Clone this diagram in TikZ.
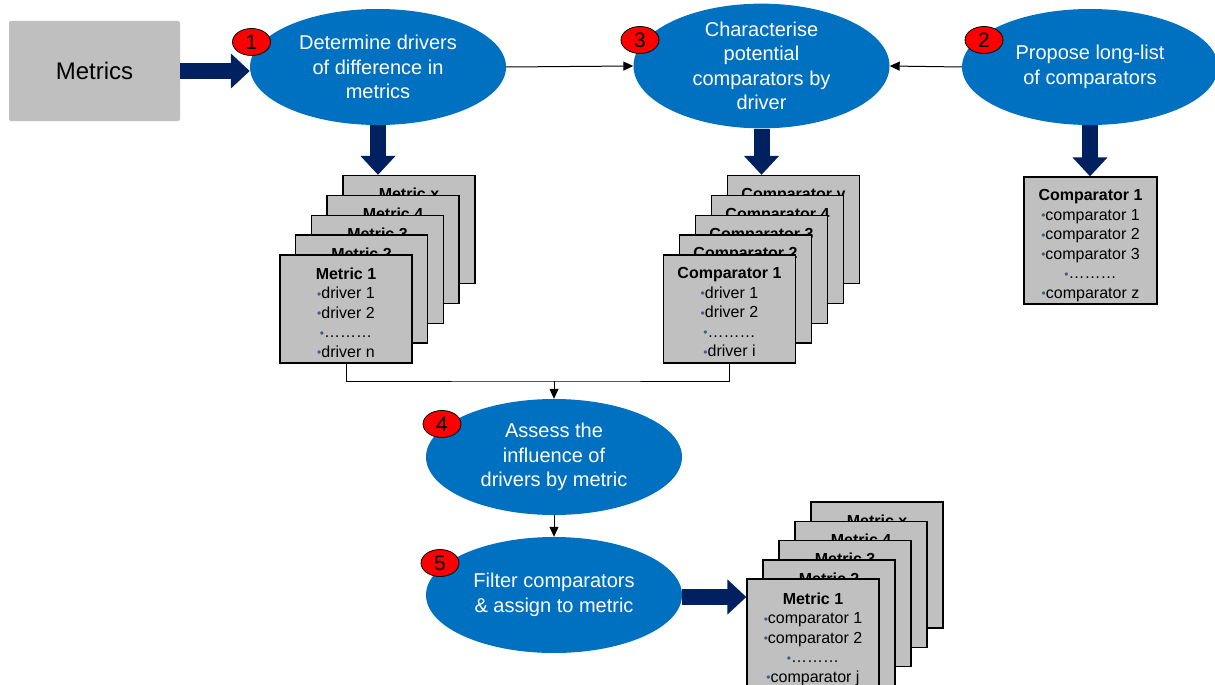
\documentclass[tikz,border=0pt]{standalone}
\usepackage{fontspec}
\setmainfont{Liberation Sans}
\usetikzlibrary{arrows.meta,shapes.geometric}
\definecolor{navy}{HTML}{002060}
\definecolor{eblue}{HTML}{0070C0}
\definecolor{cardgray}{HTML}{C0C0C0}
\definecolor{metgray}{HTML}{BFBFBF}
\definecolor{bulc}{HTML}{4A5A78}
\newcommand{\bul}{{\color{bulc}\raisebox{0.6pt}{\fontsize{12}{12}\selectfont •}}}
\begin{document}
\begin{tikzpicture}[x=1pt,y=-1pt,
  ell/.style={ellipse, fill=eblue, draw=none, minimum width=256pt, minimum height=116pt, inner sep=0pt, text=white, align=center, font=\fontsize{20}{24.5}\selectfont},
  badge/.style={ellipse, fill=red, draw=black, line width=0.8pt, minimum width=38pt, minimum height=27pt, inner sep=0pt, font=\fontsize{21}{21}\selectfont},
  card/.style={rectangle, fill=cardgray, draw=black, line width=1.3pt, minimum width=132pt, minimum height=108pt, inner sep=0pt},
  cardtxt/.style={anchor=north, inner sep=0pt, align=center, font=\fontsize{16}{19.5}\selectfont, yshift=-13pt},
  thin/.style={draw=black, line width=1pt, -{Triangle[length=10pt,width=9pt]}},
  big/.style={draw=navy, line width=16pt, -{Triangle[length=19pt,width=34pt]}}
]
\useasboundingbox (0,0) rectangle (1215,685);
\clip (0,0) rectangle (1215,685);

% Metrics box
\node[fill=metgray, rounded corners=2pt, minimum width=171pt, minimum height=100pt, inner sep=0pt, font=\fontsize{24}{28}\selectfont] (metrics) at (94.5,71) {Metrics};

% Ellipses
\node[ell] (e1) at (378,67) {Determine drivers\\of difference in\\metrics};
\node[ell, minimum height=120pt] (e3) at (761.5,66) {Characterise\\potential\\comparators by\\driver};
\node[ell] (e2) at (1090,67) {Propose long-list\\of comparators};
\node[ell] (e4) at (554,457) {Assess the\\influence of\\drivers by metric};
\node[ell] (e5) at (554,595) {Filter comparators\\\& assign to metric};

% Left stack (metrics / drivers)
\node[card] (mx) at (409,229.5) {};
\node[cardtxt] at (mx.north) {\textbf{Metric x}};
\node[card] (m4) at (393,249.5) {};
\node[cardtxt] at (m4.north) {\textbf{Metric 4}};
\node[card] (m3) at (377.5,269.5) {};
\node[cardtxt] at (m3.north) {\textbf{Metric 3}};
\node[card] (m2) at (361.5,289) {};
\node[cardtxt] at (m2.north) {\textbf{Metric 2}};
\node[card] (m1) at (346,309) {};
\node[cardtxt] at (m1.north) {\textbf{Metric 1}\\\bul driver 1\\\bul driver 2\\\bul………\\\bul driver n};

% Middle stack (comparators / drivers)
\node[card] (cx) at (793.5,229.5) {};
\node[cardtxt] at (cx.north) {\textbf{Comparator y}};
\node[card] (c4) at (777.5,249.5) {};
\node[cardtxt] at (c4.north) {\textbf{Comparator 4}};
\node[card] (c3) at (761.5,269.5) {};
\node[cardtxt] at (c3.north) {\textbf{Comparator 3}};
\node[card] (c2) at (745.5,289) {};
\node[cardtxt] at (c2.north) {\textbf{Comparator 2}};
\node[card] (c1) at (729.5,309) {};
\node[cardtxt] at (c1.north) {\textbf{Comparator 1}\\\bul driver 1\\\bul driver 2\\\bul………\\\bul driver i};

% Right box
\node[card, minimum width=133pt, minimum height=127pt] (r1) at (1090.5,240.5) {};
\node[cardtxt] at (r1.north) {\textbf{Comparator 1}\\\bul comparator 1\\\bul comparator 2\\\bul comparator 3\\\bul………\\\bul comparator z};

% Bottom stack
\node[card, minimum height=126pt] (bx) at (877,565) {};
\node[cardtxt] at (bx.north) {\textbf{Metric x}};
\node[card, minimum height=126pt] (b4) at (861,584.5) {};
\node[cardtxt] at (b4.north) {\textbf{Metric 4}};
\node[card, minimum height=126pt] (b3) at (845,603.5) {};
\node[cardtxt] at (b3.north) {\textbf{Metric 3}};
\node[card, minimum height=126pt] (b2) at (829,623) {};
\node[cardtxt] at (b2.north) {\textbf{Metric 2}};
\node[card, minimum height=126pt] (b1) at (813,642) {};
\node[cardtxt, yshift=-1pt] at (b1.north) {\textbf{Metric 1}\\\bul comparator 1\\\bul comparator 2\\\bul………\\\bul comparator j};

% Big navy arrows
\draw[big] (metrics.east) -- (metrics.east -| e1.west);
\draw[big] (e1.south) -- (e1.south |- mx.north);
\draw[big] (e3.south) -- (e3.south |- cx.north);
\draw[big] (e2.south) -- (e2.south |- r1.north);
\draw[big] ([yshift=-2pt]e5.east) -- ([yshift=-2pt]e5.east -| b1.west);

% Thin arrows
\draw[thin] (e1.east) -- (e3.west);
\draw[thin] (e2.west) -- (e3.east);
\coordinate (j) at (554,381);
\draw[line width=1pt] (m1.south) |- (j) -| (c1.south);
\draw[thin] (j) -- (e4.north);
\draw[thin] (e4.south) -- (e5.north);

% Badges
\node[badge] (n1) at (251.5,42) {1};
\node[badge] (n3) at (640,40) {3};
\node[badge] (n2) at (984,40) {2};
\node[badge] (n4) at (442,424) {4};
\node[badge] (n5) at (440,563) {5};
\end{tikzpicture}
\end{document}
